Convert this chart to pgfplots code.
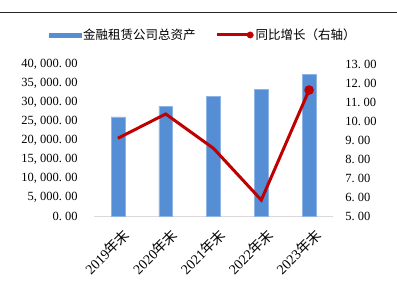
\documentclass[border=0pt]{standalone}
\usepackage{pgfplots}
\pgfplotsset{compat=1.18}
\usepackage{fontspec}
\setmainfont{Liberation Serif}
\newfontfamily\cjk{Noto Sans CJK SC}
\definecolor{barblue}{HTML}{558ED5}
\definecolor{baredge}{HTML}{8DB4E2}
\definecolor{linered}{HTML}{C00000}
\begin{document}
\fontsize{12.5bp}{14bp}\selectfont
\begin{tikzpicture}
\path[use as bounding box] (0,0) rectangle (397bp,289bp);
\draw[line width=1.5bp, black!85] (0,276.7bp) -- (397bp,276.7bp);
\begin{axis}[
  at={(94bp,73bp)}, anchor=south west,
  scale only axis, width=239bp, height=152bp,
  xmin=-0.5, xmax=4.5, ymin=0, ymax=40000,
  ytick={0,5000,...,40000},
  xtick={0,1,2,3,4},
  xticklabels={2019{\cjk 年末},2020{\cjk 年末},2021{\cjk 年末},2022{\cjk 年末},2023{\cjk 年末}},
  xticklabel style={font=\fontsize{14bp}{15bp}\selectfont, rotate=45, anchor=east, inner sep=0pt, yshift=-18bp, xshift=-5bp},
  scaled y ticks=false,
  yticklabel style={font=\fontsize{12.5bp}{14bp}\selectfont, anchor=east, xshift=-12bp, /pgf/number format/.cd, fixed, fixed zerofill, precision=2, 1000 sep={,\hspace{3.1bp}}, dec sep={.\hspace{3.1bp}}, assume math mode=true},
  axis line style={draw=none},
  major tick length=0pt,
  tick style={draw=none},
  clip=false,
]
\draw[color=black!15, line width=1bp] (axis cs:-0.5,0) -- (axis cs:4.5,0);
\addplot[ybar, bar width=13.7bp, fill=barblue, draw=baredge, line width=0.5bp] coordinates {
  (0,26100) (1,28900) (2,31400) (3,33300) (4,37200)
};
\end{axis}
\begin{axis}[
  at={(94bp,73bp)}, anchor=south west,
  scale only axis, width=239bp, height=152bp,
  xmin=-0.5, xmax=4.5, ymin=5, ymax=13,
  ytick={5,6,...,13},
  xtick=\empty,
  axis y line*=right,
  axis x line=none,
  y axis line style={draw=none},
  yticklabel style={font=\fontsize{12.5bp}{14bp}\selectfont, anchor=west, xshift=8bp, /pgf/number format/.cd, fixed, fixed zerofill, precision=2, dec sep={.\hspace{3.1bp}}, assume math mode=true},
  major tick length=0pt,
  tick style={draw=none},
  clip=false,
  legend style={at={(0.458,1.191)}, anchor=center, draw=none, fill=none,
    legend columns=2, font=\fontsize{12.5bp}{14bp}\selectfont,
    /tikz/every even column/.append style={column sep=18bp},
    inner sep=0pt},
  legend cell align=left,
]
\addlegendimage{legend image code/.code={\fill[barblue] (0bp,-1.8bp) rectangle (31.5bp,1.8bp);}}
\addlegendentry{\cjk 金融租赁公司总资产}
\addlegendimage{legend image code/.code={\draw[linered, line width=3bp] (0bp,0bp) -- (33bp,0bp); \fill[linered] (33bp,0bp) circle (3.2bp);}}
\addlegendentry{\cjk 同比增长（右轴）}
\addplot[linered, line width=3bp, mark=*, mark indices={5}, mark size=3.2bp, forget plot]
  coordinates {(0,9.09) (1,10.37) (2,8.56) (3,5.84) (4,11.63)};
\end{axis}
\end{tikzpicture}
\end{document}
